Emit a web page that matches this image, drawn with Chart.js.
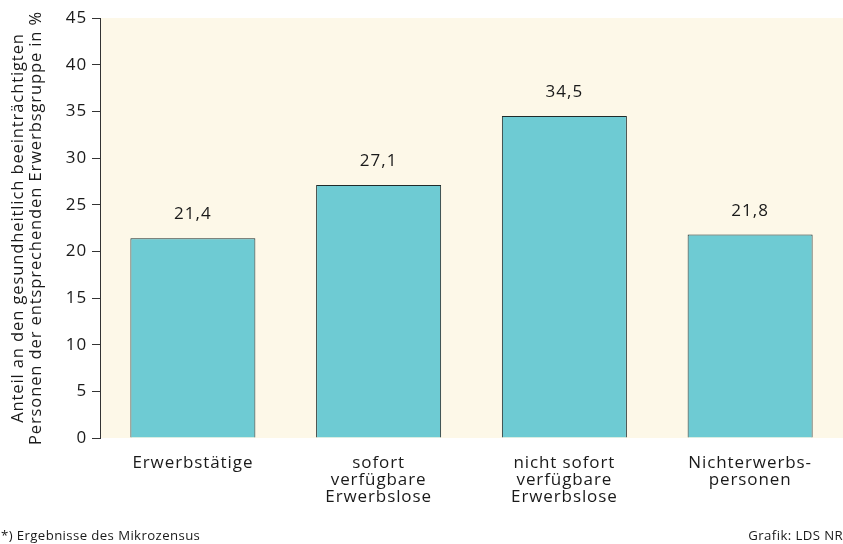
<!DOCTYPE html>
<html>
<head>
<meta charset="utf-8">
<script src="https://cdn.jsdelivr.net/npm/chart.js@4/dist/chart.umd.min.js"></script>
<style>
  html, body { margin: 0; padding: 0; background: #fff; }
  #wrap { width: 843px; height: 544px; }
</style>
</head>
<body>
<div id="wrap"><canvas id="chart"></canvas></div>
<script>
// categories (x-axis), multi-line as in the original
const groups = [
  ["Erwerbstätige"],
  ["sofort", "verfügbare", "Erwerbslose"],
  ["nicht sofort", "verfügbare", "Erwerbslose"],
  ["Nichterwerbs-", "personen"]
];

// share in percent
const shares = [21.4, 27.1, 34.5, 21.8];

const yTitle = [
  "Anteil an den gesundheitlich beeinträchtigten",
  "Personen der entsprechenden Erwerbsgruppe in %"
];

const FONT = "'Open Sans', 'DejaVu Sans', sans-serif";
const INK = "#1a1a1a";

// the original face runs a bit wider, so open up the tracking
const tracking = {
  id: "tracking",
  beforeUpdate(chart) { chart.ctx.letterSpacing = "0.9px"; },
  beforeLayout(chart) { chart.ctx.letterSpacing = "0.9px"; },
  beforeDraw(chart) { chart.ctx.letterSpacing = "0.9px"; }
};

// cream plot background, value labels and footer notes
const decor = {
  id: "decor",
  beforeDraw(chart) {
    const { ctx, chartArea: a } = chart;
    ctx.save();
    ctx.fillStyle = "#fdf8e8";
    ctx.fillRect(a.left, a.top, a.right - a.left, a.bottom - a.top);
    ctx.restore();
  },
  afterDraw(chart) {
    const ctx = chart.ctx;
    const meta = chart.getDatasetMeta(0);
    ctx.save();
    ctx.fillStyle = INK;
    ctx.letterSpacing = "1px";
    ctx.font = "17px " + FONT;
    ctx.textAlign = "center";
    ctx.textBaseline = "alphabetic";
    meta.data.forEach((bar, i) => {
      ctx.fillText(shares[i].toFixed(1).replace(".", ","), bar.x, bar.y - 19);
    });
    ctx.letterSpacing = "0.4px";
    ctx.font = "13.2px " + FONT;
    ctx.textAlign = "left";
    ctx.fillText("*) Ergebnisse des Mikrozensus", 1, 540);
    ctx.textAlign = "right";
    ctx.fillText("Grafik: LDS NR", 843, 540);
    ctx.restore();
  }
};

new Chart("chart", {
  type: "bar",
  data: {
    labels: groups,
    datasets: [{
      data: shares,
      backgroundColor: "#6ecbd3",
      borderColor: "#1f2b2b",
      borderWidth: 1,
      barPercentage: 0.673,
      categoryPercentage: 1
    }]
  },
  options: {
    responsive: true,
    maintainAspectRatio: false,
    animation: false,
    layout: { padding: { top: 18, right: 0, bottom: 0, left: 0 } },
    plugins: {
      legend: { display: false },
      tooltip: { enabled: false }
    },
    scales: {
      x: {
        grid: { display: false },
        border: { display: false },
        ticks: {
          color: INK,
          font: { family: FONT, size: 17, lineHeight: 1.0 },
          padding: 9,
          maxRotation: 0
        },
        afterFit(scale) { scale.height = 106; }
      },
      y: {
        min: 0,
        max: 45,
        ticks: {
          stepSize: 5,
          color: INK,
          font: { family: FONT, size: 17 },
          padding: 5
        },
        grid: {
          drawOnChartArea: false,
          drawTicks: true,
          tickLength: 8,
          color: "#333"
        },
        border: { display: true, color: "#333", width: 1 },
        title: {
          display: true,
          text: yTitle,
          color: INK,
          font: { family: FONT, size: 16.5, lineHeight: 1.12 },
          padding: { top: 9, bottom: 0 }
        },
        afterFit(scale) { scale.width = 100; }
      }
    }
  },
  plugins: [tracking, decor]
});
</script>
</body>
</html>
